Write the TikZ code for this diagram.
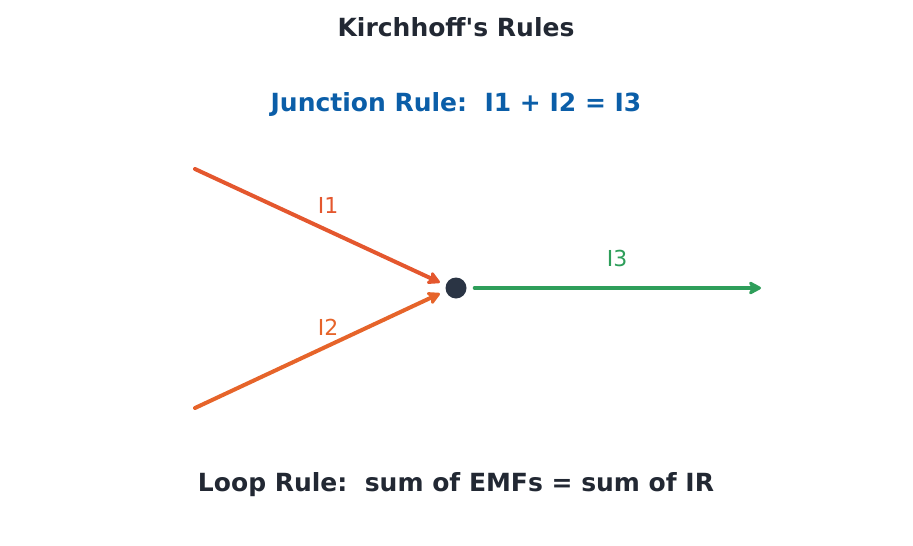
\documentclass[tikz,border=0pt]{standalone}
\usepackage{fontspec}
\setmainfont{DejaVu Sans}
\usetikzlibrary{arrows.meta}
\definecolor{titlegray}{HTML}{222833}
\definecolor{ruleblue}{HTML}{0B5EA8}
\definecolor{curorange}{HTML}{E4572E}
\definecolor{curgreen}{HTML}{2E9E5A}
\definecolor{dotgray}{HTML}{2A3444}
\begin{document}
\begin{tikzpicture}[x=1pt, y=-1pt,
  heading/.style = {font=\fontsize{25}{30}\selectfont\bfseries},
  current/.style = {line width=4pt, line cap=round,
    -{Stealth[length=15pt, width=16pt, inset=4pt, round]}},
  curlabel/.style = {font=\fontsize{22}{26}\selectfont}]
  \useasboundingbox (0,0) rectangle (913,546);
  \node[heading, text=titlegray] (title) at (456,27) {Kirchhoff\textquotesingle s Rules};
  \node[heading, text=ruleblue] (junction) at (456,105) {Junction Rule:\ \ I1 + I2 = I3};
  \node[heading, text=titlegray] (loop) at (456,485) {Loop Rule:\ \ sum of EMFs = sum of IR};
  % junction point
  \node[circle, fill=dotgray, minimum size=21pt, inner sep=0pt] (j) at (456,288) {};
  \coordinate (a) at (195,169);
  \coordinate (b) at (195,408);
  \coordinate (c) at (761,288);
  \draw[current, curorange, shorten >=6pt] (a) -- (j.west |- 0,285);
  \draw[current, curorange!92!yellow, shorten >=6pt] (b) -- (j.west |- 0,291);
  \draw[current, curgreen] (j.east) ++(8,0) -- (c);
  \node[curlabel, text=curorange] (i1) at (328,205) {I1};
  \node[curlabel, text=curorange!92!yellow] (i2) at (328,327) {I2};
  \node[curlabel, text=curgreen] (i3) at (617,258) {I3};
\end{tikzpicture}
\end{document}
